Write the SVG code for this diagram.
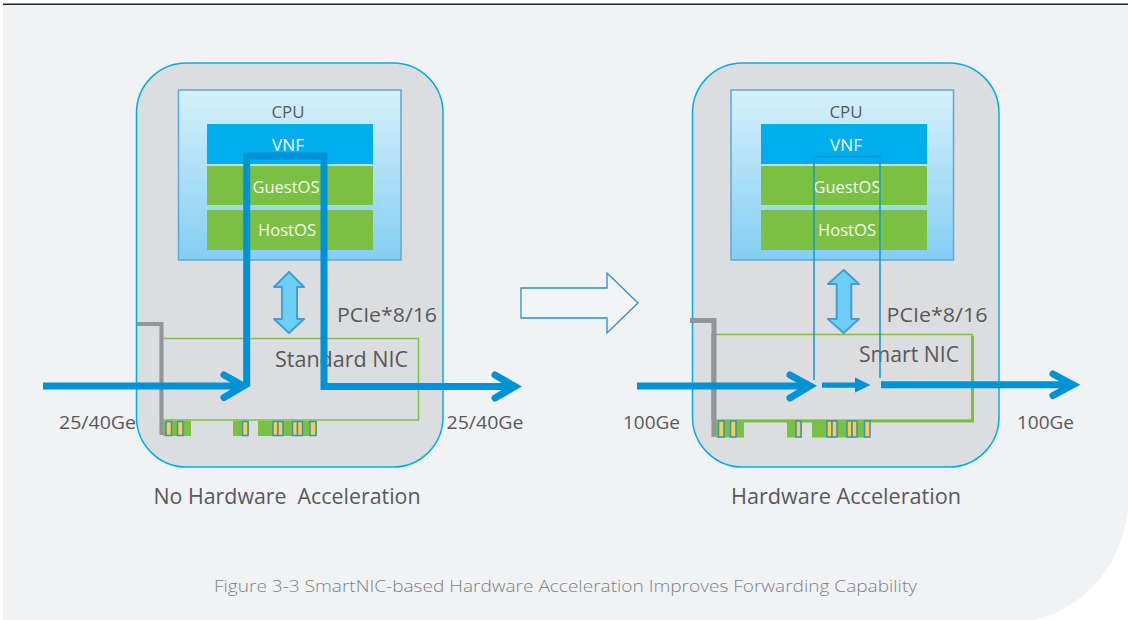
<svg xmlns="http://www.w3.org/2000/svg" width="1128" height="620" viewBox="0 0 1128 620">
<style>
text{font-family:"Open Sans","Noto Sans","Liberation Sans",sans-serif;fill:#58595b;text-anchor:middle}
.w{fill:#f4f9f0;font-size:16px}
.c{font-size:16px}
.l{font-size:20px}
.s{font-size:17.5px}
.t{font-size:21px}
.cap{font-size:17px;fill:#808285;font-weight:300}
.dev{fill:#dcddde;stroke:#00aeef;stroke-width:1.5}
.cpu{fill:url(#g);stroke:#5aa9d8;stroke-width:1.5}
.vnf{fill:#00aeef}
.os{fill:#7ac143}
.pin{fill:#f7cf4a;stroke:#3b8fc9;stroke-width:1.5}
.fing{fill:#7ac143}
.dbl{fill:#6dcff6;stroke:#3f9fd6;stroke-width:2;stroke-linejoin:round}
.ln{fill:none;stroke:#0092d6;stroke-width:7}
.ch{fill:none;stroke:#0092d6;stroke-width:7;stroke-linecap:round;stroke-linejoin:miter}
.thin{fill:none;stroke:#0f98d8;stroke-width:1.5}
.gr{fill:none;stroke:#939598}
</style>
<defs>
<linearGradient id="g" x1="0" y1="0" x2="0" y2="1"><stop offset="0" stop-color="#d6f0fb"/><stop offset="1" stop-color="#84cef3"/></linearGradient>
</defs>
<path d="M3 5H1128V510C1120 575 1075 612 1032 620H3Z" fill="#f1f2f4"/>
<path d="M3 4.200H1128" stroke="#222222" stroke-width="1.500"/>

<g id="left-device">
<rect class="dev" x="136.500" y="63" width="306.500" height="404" rx="50"/>
</g>
<g id="left-cpu">
<rect class="cpu" x="178.500" y="90" width="222.500" height="170"/>
<text class="c" x="288" y="118" textLength="33" lengthAdjust="spacingAndGlyphs">CPU</text>
</g>
<g id="left-vnf"><rect class="vnf" x="207" y="124" width="166" height="40"/><text class="w" x="288" y="151" textLength="32" lengthAdjust="spacingAndGlyphs">VNF</text></g>
<g id="left-guestos"><rect class="os" x="207" y="166" width="166" height="39"/><text class="w" x="286" y="193" textLength="67" lengthAdjust="spacingAndGlyphs">GuestOS</text></g>
<g id="left-hostos"><rect class="os" x="207" y="210" width="166" height="40"/><text class="w" x="287" y="236" textLength="58" lengthAdjust="spacingAndGlyphs">HostOS</text></g>
<g id="left-pcie">
<path class="dbl" d="M289 272L304 287H297V319H304L289 333L274 319H282V287H274Z"/>
<text class="l" x="387" y="322" textLength="100" lengthAdjust="spacingAndGlyphs">PCIe*8/16</text>
</g>
<g id="left-nic">
<rect x="160.500" y="338.500" width="258" height="81.500" fill="none" stroke="#7ac143" stroke-width="1.5"/>
<path class="gr" stroke-width="4" d="M137 324H161.500V435"/>
<rect class="fing" x="163" y="421" width="28" height="15"/>
<rect class="fing" x="233" y="421" width="16" height="15"/>
<rect class="fing" x="258" y="421" width="59" height="15"/>
<rect class="pin" x="166" y="421.500" width="5.500" height="14"/><rect class="pin" x="177.500" y="421.500" width="5.500" height="14"/>
<rect class="pin" x="242.500" y="421.500" width="5.500" height="14"/>
<rect class="pin" x="273" y="421.500" width="5" height="14"/><rect class="pin" x="278" y="421.500" width="5" height="14"/>
<rect class="pin" x="292.500" y="421.500" width="5" height="14"/><rect class="pin" x="297.500" y="421.500" width="5" height="14"/>
<rect class="pin" x="310" y="421.500" width="6" height="14"/>
<text class="t" x="341.500" y="367" textLength="133" lengthAdjust="spacingAndGlyphs">Standard NIC</text>
</g>
<text class="s" x="97.500" y="429" textLength="77" lengthAdjust="spacingAndGlyphs">25/40Ge</text>
<text class="s" x="485" y="429" textLength="77" lengthAdjust="spacingAndGlyphs">25/40Ge</text>
<text class="t" x="287" y="504" textLength="267" lengthAdjust="spacingAndGlyphs" xml:space="preserve">No Hardware  Acceleration</text>

<g id="transition-arrow"><path d="M521 288H607V273L638 303L607 333V318H521Z" fill="#f2f4f6" stroke="#2a8fd0" stroke-width="1.3"/></g>

<g id="right-device">
<rect class="dev" x="692.500" y="63" width="306.500" height="404" rx="50"/>
</g>
<g id="right-cpu">
<rect class="cpu" x="731" y="90" width="222.500" height="170"/>
<text class="c" x="846" y="118" textLength="33" lengthAdjust="spacingAndGlyphs">CPU</text>
</g>
<g id="right-vnf"><rect class="vnf" x="761" y="124" width="166" height="40"/><text class="w" x="846" y="151" textLength="32" lengthAdjust="spacingAndGlyphs">VNF</text></g>
<g id="right-guestos"><rect class="os" x="761" y="166" width="166" height="39"/><text class="w" x="847" y="193" textLength="67" lengthAdjust="spacingAndGlyphs">GuestOS</text></g>
<g id="right-hostos"><rect class="os" x="761" y="210" width="166" height="40"/><text class="w" x="847" y="236" textLength="58" lengthAdjust="spacingAndGlyphs">HostOS</text></g>
<g id="right-pcie">
<path class="dbl" d="M843.700 270L859 284H851.300V319H859L843.700 333L828 319H836.700V284H828Z"/>
<text class="l" x="937" y="322" textLength="101" lengthAdjust="spacingAndGlyphs">PCIe*8/16</text>
</g>
<g id="right-nic">
<path d="M712 420.500V334.500H972.500V420.500H712" fill="none" stroke="#7ac143" stroke-width="1.500"/>
<path d="M972.500 336V421H716" fill="none" stroke="#7ac143" stroke-width="3"/>
<path class="gr" stroke-width="5" d="M690 320.500H714V437"/>
<rect class="fing" x="716" y="421" width="28" height="16.500"/>
<rect class="fing" x="787" y="421" width="15" height="16.500"/>
<rect class="fing" x="812" y="421" width="58" height="16.500"/>
<rect class="pin" x="718.500" y="421" width="5.500" height="16"/><rect class="pin" x="730.500" y="421" width="5.500" height="16"/>
<rect class="pin" x="796" y="421" width="5" height="16"/>
<rect class="pin" x="827" y="421" width="5" height="16"/><rect class="pin" x="832" y="421" width="5" height="16"/>
<rect class="pin" x="847" y="421" width="5" height="16"/><rect class="pin" x="852" y="421" width="5" height="16"/>
<rect class="pin" x="864.500" y="421" width="5.500" height="16"/>
<text class="t" x="909" y="362" textLength="100" lengthAdjust="spacingAndGlyphs">Smart NIC</text>
</g>
<text class="s" x="651.500" y="429" textLength="57" lengthAdjust="spacingAndGlyphs">100Ge</text>
<text class="s" x="1045.500" y="429" textLength="57" lengthAdjust="spacingAndGlyphs">100Ge</text>
<text class="t" x="846" y="504" textLength="230" lengthAdjust="spacingAndGlyphs">Hardware Acceleration</text>

<text class="cap" x="565.500" y="592" textLength="703" lengthAdjust="spacingAndGlyphs">Figure 3-3 SmartNIC-based Hardware Acceleration Improves Forwarding Capability</text>

<g id="connectors">
<path class="ln" d="M43 386H243"/>
<path class="ch" d="M224 375L243.500 386L224 397.500"/>
<path class="ln" d="M246.700 386V156H324V386.500H514"/>
<path class="ch" d="M495 375L515 386.500L495 398"/>
<path class="thin" d="M814 380V156.500H880V378"/>
<path class="ln" d="M637 386H809"/>
<path class="ch" d="M790 375L810 386L790 398"/>
<path d="M822 382.400H855V377.500L870.500 385L855 392.500V387.700H822Z" fill="#0092d6"/>
<path class="ln" d="M881 384.700H1072"/>
<path class="ch" d="M1053 374L1073 384.700L1053 395.500"/>
</g>
</svg>
